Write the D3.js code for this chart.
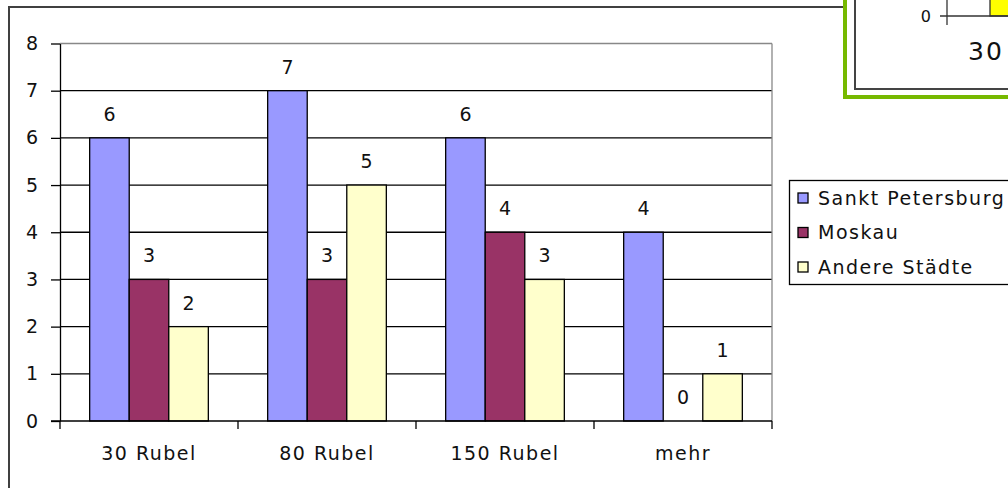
<!DOCTYPE html>
<html>
<head>
<meta charset="utf-8">
<script src="https://cdn.jsdelivr.net/npm/d3@7.9.0/dist/d3.min.js"></script>
<style>
  body { margin: 0; background: #fff; }
  svg text { font-family: "DejaVu Sans", Verdana, sans-serif; fill: #111; }
</style>
</head>
<body>
<svg id="chart" width="1008" height="488"></svg>
<script>
const categories = ['30 Rubel', '80 Rubel', '150 Rubel', 'mehr'];
const seriesNames = ['Sankt Petersburg', 'Moskau', 'Andere Städte'];
const sanktPetersburg = [6, 7, 6, 4];
const moskau = [3, 3, 4, 0];
const andereStaedte = [2, 5, 3, 1];
const seriesColors = ['#9999ff', '#993366', '#ffffcc'];
const yTicks = [0, 1, 2, 3, 4, 5, 6, 7, 8];

// the bit of another chart peeking in at the top right corner
const insetValue = 1;
const insetLabel = '30';

const seriesValues = [sanktPetersburg, moskau, andereStaedte];

const svg = d3.select('#chart');

const x = d3.scaleBand().domain(categories).range([60, 772]);
const xInner = d3.scaleBand()
  .domain(seriesNames)
  .range([0, x.bandwidth()])
  .paddingInner(0)
  .paddingOuter(0.75);
const y = d3.scaleLinear().domain([0, 8]).range([421, 43.5]);

// outer chart frame
svg.append('path')
  .attr('d', 'M9,488 V7 H1010')
  .attr('fill', 'none')
  .attr('stroke', '#404040')
  .attr('stroke-width', 2);

// gridlines
const grid = svg.append('g');
grid.selectAll('line')
  .data(yTicks.filter((t) => t > 0))
  .join('line')
  .attr('x1', x.range()[0])
  .attr('x2', x.range()[1])
  .attr('y1', (d) => y(d))
  .attr('y2', (d) => y(d))
  .attr('stroke', (d) => (d === 8 ? '#888' : '#000'))
  .attr('stroke-width', 1.3);

// plot area right edge
svg.append('line')
  .attr('x1', x.range()[1]).attr('x2', x.range()[1])
  .attr('y1', y(8)).attr('y2', y(0))
  .attr('stroke', '#888')
  .attr('stroke-width', 1.3);

// bars
const groups = svg.append('g')
  .selectAll('g')
  .data(categories)
  .join('g')
  .attr('transform', (c) => `translate(${x(c)},0)`);

groups.selectAll('rect')
  .data((c, ci) => seriesNames.map((s, si) => ({ s, si, v: seriesValues[si][ci] })))
  .join('rect')
  .attr('x', (d) => xInner(d.s))
  .attr('width', xInner.bandwidth())
  .attr('y', (d) => y(d.v))
  .attr('height', (d) => y(0) - y(d.v))
  .attr('fill', (d) => seriesColors[d.si])
  .attr('stroke', (d) => (d.v > 0 ? '#000' : 'none'))
  .attr('stroke-width', 1.3);

groups.selectAll('text')
  .data((c, ci) => seriesNames.map((s, si) => ({ s, si, v: seriesValues[si][ci] })))
  .join('text')
  .attr('x', (d) => xInner(d.s) + xInner.bandwidth() / 2)
  .attr('y', (d) => y(d.v) - 17)
  .attr('text-anchor', 'middle')
  .attr('font-size', 19)
  .text((d) => d.v);

// y axis
const yAxis = d3.axisLeft(y)
  .tickValues(yTicks)
  .tickSize(9)
  .tickSizeOuter(0)
  .tickPadding(13)
  .tickFormat(d3.format('d'));

const yG = svg.append('g')
  .attr('transform', `translate(${x.range()[0]},0)`)
  .call(yAxis);
yG.selectAll('path, line').attr('stroke', '#000').attr('stroke-width', 1.3);
yG.selectAll('text')
  .attr('font-size', 19)
  .attr('font-family', '"DejaVu Sans", Verdana, sans-serif')
  .attr('fill', '#111');

// x axis
const xG = svg.append('g');
xG.append('line')
  .attr('x1', x.range()[0] - 9).attr('x2', x.range()[1])
  .attr('y1', y(0)).attr('y2', y(0))
  .attr('stroke', '#000').attr('stroke-width', 1.3);
xG.selectAll('line.tick')
  .data(categories.map((c) => x(c)).concat([x.range()[1]]))
  .join('line')
  .attr('class', 'tick')
  .attr('x1', (d) => d).attr('x2', (d) => d)
  .attr('y1', y(0)).attr('y2', y(0) + 8)
  .attr('stroke', '#000').attr('stroke-width', 1.3);
xG.selectAll('text')
  .data(categories)
  .join('text')
  .attr('x', (c) => x(c) + x.bandwidth() / 2)
  .attr('y', 460)
  .attr('text-anchor', 'middle')
  .attr('font-size', 19)
  .attr('letter-spacing', 1.5)
  .text((c) => c);

// legend
const legend = svg.append('g');
legend.append('rect')
  .attr('x', 789.5).attr('y', 180.5)
  .attr('width', 260).attr('height', 104)
  .attr('fill', '#fff')
  .attr('stroke', '#000')
  .attr('stroke-width', 1.3);

const legendItems = legend.selectAll('g.item')
  .data(seriesNames)
  .join('g')
  .attr('class', 'item')
  .attr('transform', (d, i) => `translate(798,${198 + i * 34.5})`);

legendItems.append('rect')
  .attr('x', 0).attr('y', -5)
  .attr('width', 10).attr('height', 10)
  .attr('fill', (d, i) => seriesColors[i])
  .attr('stroke', '#000')
  .attr('stroke-width', 1.3);

legendItems.append('text')
  .attr('x', 20)
  .attr('dy', '0.36em')
  .attr('font-size', 19)
  .attr('letter-spacing', 1.5)
  .text((d) => d);

// inset: corner of another chart laid over this one
const inset = svg.append('g');
inset.append('rect')
  .attr('x', 843).attr('y', -10)
  .attr('width', 200).attr('height', 109)
  .attr('fill', '#76b900');
inset.append('rect')
  .attr('x', 847).attr('y', -10)
  .attr('width', 200).attr('height', 105)
  .attr('fill', '#fff');
inset.append('path')
  .attr('d', 'M855,-5 V89 H1010')
  .attr('fill', 'none')
  .attr('stroke', '#444')
  .attr('stroke-width', 2);

const insetY = d3.scaleLinear().domain([0, 1]).range([16, -40]);

inset.append('rect')
  .attr('x', 990)
  .attr('y', insetY(insetValue))
  .attr('width', 40)
  .attr('height', insetY(0) - insetY(insetValue))
  .attr('fill', '#ffff00')
  .attr('stroke', '#333')
  .attr('stroke-width', 1.3);
inset.append('line')
  .attr('x1', 940).attr('x2', 1010)
  .attr('y1', insetY(0)).attr('y2', insetY(0))
  .attr('stroke', '#333').attr('stroke-width', 1.3);
inset.append('line')
  .attr('x1', 947).attr('x2', 947)
  .attr('y1', -2).attr('y2', 25)
  .attr('stroke', '#333').attr('stroke-width', 1.3);
inset.append('text')
  .attr('x', 931).attr('y', insetY(0) + 6)
  .attr('text-anchor', 'end')
  .attr('font-size', 16)
  .attr('fill', '#333')
  .text(0);
inset.append('text')
  .attr('x', 968).attr('y', 60)
  .attr('font-size', 25)
  .attr('letter-spacing', 2)
  .attr('fill', '#333')
  .text(insetLabel);
</script>
</body>
</html>
